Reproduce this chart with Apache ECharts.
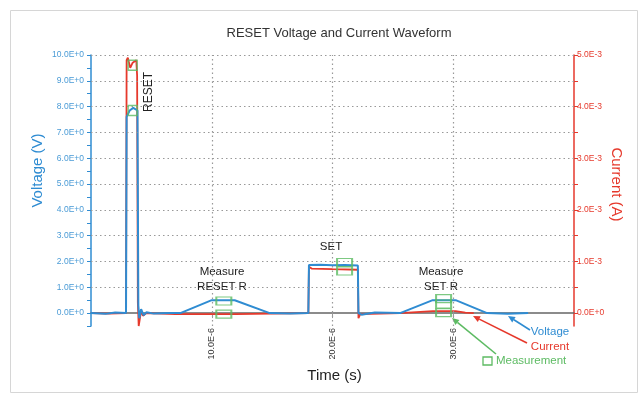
<!DOCTYPE html>
<html>
<head>
<meta charset="utf-8">
<script src="https://cdn.jsdelivr.net/npm/echarts@6/dist/echarts.min.js"></script>
<style>
  html, body { margin: 0; padding: 0; background: #fff; }
  #chart { width: 643px; height: 397px; }
</style>
</head>
<body>
<div id="chart"></div>
<script>
// Time in microseconds, voltage in volts
const voltageTrace = [
  [0, 0], [1.2, -0.03], [2.0, 0.02], [2.9, 0], [2.95, 7.6], [3.2, 7.85], [3.5, 7.95], [3.85, 7.85],
  [3.92, 0.3], [4.0, -0.2], [4.15, 0.15], [4.35, -0.08], [4.6, 0.03], [5.2, -0.02], [6.5, 0],
  [7.4, 0], [10.0, 0.5], [11.9, 0.5], [14.8, 0], [16.5, -0.02], [18.0, 0], [18.05, 1.86],
  [19.0, 1.87], [20.0, 1.85], [21.0, 1.86], [22.1, 1.84], [22.15, 0], [22.4, -0.06], [23.5, 0.02],
  [25.6, 0], [28.3, 0.5], [30.2, 0.5], [32.8, 0], [34.5, -0.03], [36.2, 0]
];
// Time in microseconds, current in amperes
const currentTrace = [
  [0, 0], [1.5, -0.01e-3], [2.9, 0], [2.95, 4.9e-3], [3.05, 4.95e-3], [3.25, 4.75e-3],
  [3.45, 4.85e-3], [3.75, 4.9e-3], [3.82, 4.6e-3], [3.88, 0.2e-3], [3.95, -0.25e-3],
  [4.05, -0.1e-3], [4.15, 0.05e-3], [4.3, -0.05e-3], [4.6, 0], [7.0, -0.02e-3], [12.0, -0.02e-3],
  [18.0, 0], [18.05, 0.9e-3], [18.3, 0.86e-3], [20.0, 0.85e-3], [22.1, 0.84e-3], [22.15, -0.1e-3],
  [22.3, -0.02e-3], [25.6, 0], [28.3, 0.04e-3], [30.2, 0.04e-3], [31.0, 0.01e-3], [31.7, 0]
];
// Measurement windows
const voltageMarks = [[3.45, 7.85], [11.0, 0.47], [21.0, 1.96], [29.2, 0.56], [29.2, 0.35]];
const currentMarks = [[3.45, 4.8e-3], [11.0, -0.02e-3], [21.0, 0.815e-3], [29.2, 0.01e-3]];

// Axis ticks and labels
const voltageTicks = [-0.5, 0, 0.5, 1, 1.5, 2, 2.5, 3, 3.5, 4, 4.5, 5, 5.5, 6, 6.5, 7, 7.5, 8, 8.5, 9, 9.5, 10];
const voltageLabels = [0, 1, 2, 3, 4, 5, 6, 7, 8, 9, 10];
const currentTicks = [0, 0.5e-3, 1e-3, 1.5e-3, 2e-3, 2.5e-3, 3e-3, 3.5e-3, 4e-3, 4.5e-3, 5e-3];
const currentLabels = [0, 1e-3, 2e-3, 3e-3, 4e-3, 5e-3];
const timeLabels = [10, 20, 30];
const voltageGrid = [1, 2, 3, 4, 5, 6, 7, 8, 9, 10];
const timeGrid = [10, 20, 30];

const BLUE = '#2f8cd2';
const RED = '#e6392c';
const GREEN = '#5dbb63';
const FONT = 'Liberation Sans, Arial, sans-serif';

function arrow(x1, y1, x2, y2, color) {
  const a = Math.atan2(y2 - y1, x2 - x1);
  const L = 7, W = 3.2;
  const bx = x2 - L * Math.cos(a), by = y2 - L * Math.sin(a);
  const px = -Math.sin(a) * W, py = Math.cos(a) * W;
  return [
    { type: 'line', silent: true, shape: { x1: x1, y1: y1, x2: bx, y2: by }, style: { stroke: color, lineWidth: 1.6 } },
    { type: 'polygon', silent: true, shape: { points: [[x2, y2], [bx + px, by + py], [bx - px, by - py]] }, style: { fill: color } }
  ];
}
function label(text, x, y, color, size, rotation) {
  return {
    type: 'text', silent: true, x: x, y: y, rotation: rotation || 0,
    style: { text: text, fill: color, font: size + 'px ' + FONT, align: 'center', verticalAlign: 'middle', lineHeight: 15 }
  };
}

const chart = echarts.init(document.getElementById('chart'), null, { renderer: 'canvas' });

const boxSize = v => (v[0] < 5 ? [9, 10] : [15, 8]);

chart.setOption({
  animation: false,
  backgroundColor: '#fff',
  textStyle: { fontFamily: FONT },
  title: {
    text: 'RESET Voltage and Current Waveform',
    left: 334, textAlign: 'center', top: 22,
    textStyle: { fontSize: 13, fontWeight: 'normal', color: '#333', fontFamily: FONT }
  },
  grid: { left: 91, right: 69, top: 55, bottom: 71, outerBoundsMode: 'none', containLabel: false },
  xAxis: {
    type: 'value', min: 0, max: 40,
    name: 'Time (s)', nameLocation: 'middle', nameGap: 42,
    nameTextStyle: { fontSize: 15, color: '#222', padding: [0, 0, 0, 4] },
    axisLine: { onZero: true, lineStyle: { color: '#666', width: 1.5 } },
    axisTick: { show: true, length: 5, customValues: timeLabels, lineStyle: { color: '#999' } },
    axisLabel: {
      customValues: timeLabels, rotate: 90, margin: 2, fontSize: 9, color: '#333',
      formatter: v => v.toFixed(1) + 'E-6'
    },
    splitLine: { show: false }
  },
  yAxis: [
    {
      type: 'value', min: -0.5, max: 10, position: 'left',
      name: 'Voltage (V)', nameLocation: 'middle', nameRotate: 90, nameGap: 46, nameMoveOverlap: false,
      nameTextStyle: { fontSize: 15, color: BLUE, padding: [0, 0, 0, 40] },
      axisLine: { show: true, onZero: false, lineStyle: { color: BLUE, width: 1.5 } },
      axisTick: { show: true, length: 4, customValues: voltageTicks, lineStyle: { color: BLUE } },
      axisLabel: {
        customValues: voltageLabels, margin: 7, fontSize: 8.5, color: '#4a9bd6',
        formatter: v => v.toFixed(1) + 'E+0'
      },
      splitLine: { show: false }
    },
    {
      type: 'value', min: -0.25e-3, max: 5e-3, position: 'right',
      name: 'Current (A)', nameLocation: 'middle', nameRotate: -90, nameGap: 35, nameMoveOverlap: false,
      nameTextStyle: { fontSize: 15, color: RED, padding: [0, 12, 0, 0] },
      axisLine: { show: true, onZero: false, lineStyle: { color: RED, width: 1.5 } },
      axisTick: { show: true, length: 4, customValues: currentTicks, lineStyle: { color: RED } },
      axisLabel: {
        customValues: currentLabels, margin: 3, fontSize: 8.5, color: RED,
        formatter: v => (v === 0 ? '0.0E+0' : (v * 1e3).toFixed(1) + 'E-3')
      },
      splitLine: { show: false }
    }
  ],
  series: [
    {
      // dotted reference grid
      type: 'line', data: [], z: 1, silent: true,
      markLine: {
        silent: true, symbol: ['none', 'none'], label: { show: false },
        lineStyle: { color: '#999', type: [1.5, 3], width: 1.2 },
        data: voltageGrid.map(v => ({ yAxis: v })).concat(timeGrid.map(t => ({ xAxis: t })))
      }
    },
    {
      name: 'Current', type: 'line', yAxisIndex: 1, data: currentTrace, z: 3,
      showSymbol: false, lineStyle: { color: RED, width: 1.8 }, itemStyle: { color: RED }
    },
    {
      name: 'Voltage', type: 'line', yAxisIndex: 0, data: voltageTrace, z: 4,
      showSymbol: false, lineStyle: { color: BLUE, width: 2 }, itemStyle: { color: BLUE }
    },
    {
      name: 'Measurement V', type: 'scatter', yAxisIndex: 0, data: voltageMarks, z: 5,
      symbol: 'rect', symbolSize: boxSize,
      itemStyle: { color: 'rgba(0,0,0,0)', borderColor: GREEN, borderWidth: 1.5 }
    },
    {
      name: 'Measurement I', type: 'scatter', yAxisIndex: 1, data: currentMarks, z: 5,
      symbol: 'rect', symbolSize: boxSize,
      itemStyle: { color: 'rgba(0,0,0,0)', borderColor: GREEN, borderWidth: 1.5 }
    }
  ],
  graphic: [
    { type: 'rect', silent: true, z: -1, shape: { x: 10.5, y: 10.5, width: 627, height: 382 }, style: { fill: 'none', stroke: '#d6d6d6', lineWidth: 1 } },
    label('RESET', 149, 92, '#222', 12, Math.PI / 2),
    label('Measure\nRESET R', 222, 279, '#222', 11.5),
    label('SET', 331, 247, '#222', 11.5),
    label('Measure\nSET R', 441, 279, '#222', 11.5),
    label('Voltage', 550, 332, BLUE, 11.5),
    label('Current', 550, 347, RED, 11.5),
    { type: 'rect', silent: true, shape: { x: 483, y: 357, width: 9, height: 8 }, style: { fill: 'none', stroke: GREEN, lineWidth: 1.3 } },
    { type: 'text', silent: true, x: 496, y: 361, style: { text: 'Measurement', fill: GREEN, font: '11.5px ' + FONT, align: 'left', verticalAlign: 'middle' } }
  ].concat(
    arrow(530, 330, 508, 316, BLUE),
    arrow(527, 343, 473, 316, RED),
    arrow(496, 354, 452, 318, GREEN)
  )
});
</script>
</body>
</html>
